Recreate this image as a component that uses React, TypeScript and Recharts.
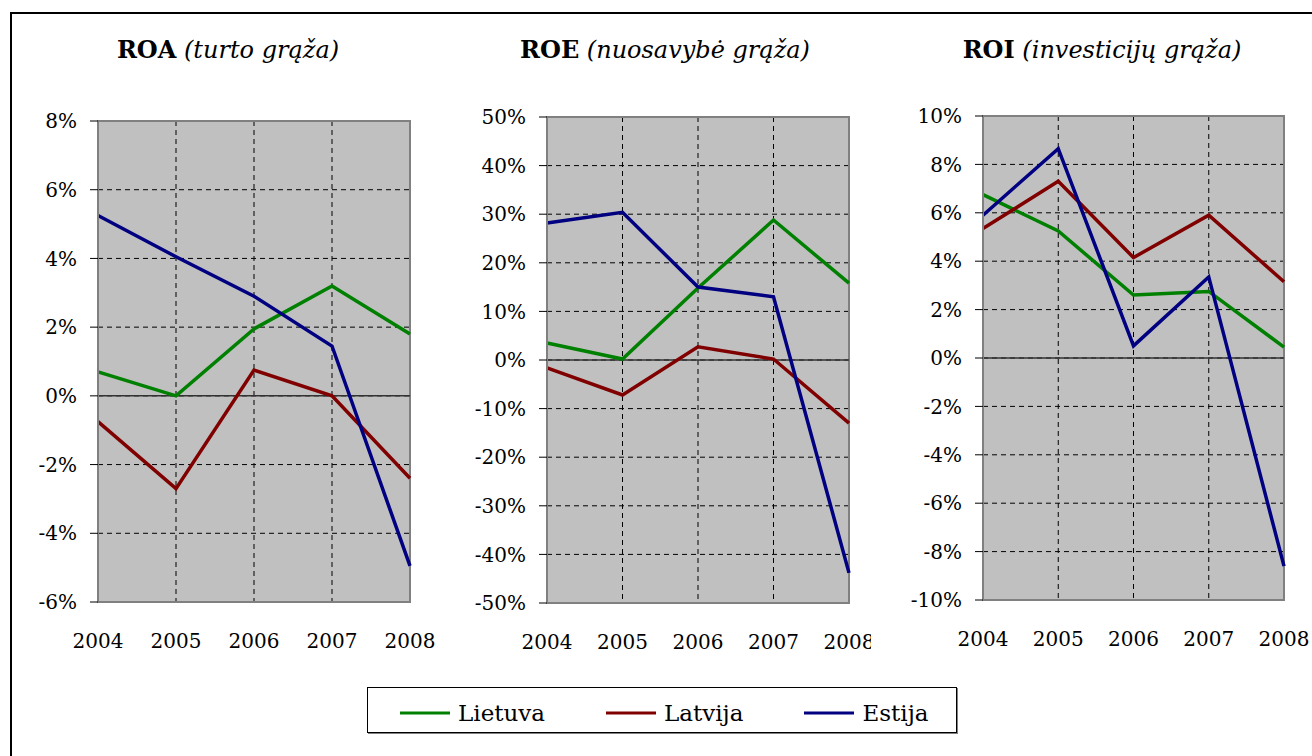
import React from "react";
import { LineChart, Line, XAxis, YAxis, CartesianGrid, ReferenceLine, ReferenceArea } from "recharts";

const years = ["2004", "2005", "2006", "2007", "2008"];

const roaLietuva = [0.7, 0.0, 1.95, 3.2, 1.8];
const roaLatvija = [-0.75, -2.7, 0.75, 0.0, -2.4];
const roaEstija = [5.25, 4.05, 2.9, 1.45, -4.95];

const roeLietuva = [3.5, 0.2, 14.8, 28.8, 15.8];
const roeLatvija = [-1.6, -7.2, 2.7, 0.2, -13.0];
const roeEstija = [28.2, 30.4, 15.0, 13.0, -43.8];

const roiLietuva = [6.75, 5.25, 2.6, 2.75, 0.45];
const roiLatvija = [5.35, 7.3, 4.15, 5.9, 3.15];
const roiEstija = [5.9, 8.65, 0.5, 3.35, -8.6];

const roaTicks = [-6, -4, -2, 0, 2, 4, 6, 8];
const roeTicks = [-50, -40, -30, -20, -10, 0, 10, 20, 30, 40, 50];
const roiTicks = [-10, -8, -6, -4, -2, 0, 2, 4, 6, 8, 10];

const series = [
  { key: "Lietuva", color: "#008000" },
  { key: "Latvija", color: "#800000" },
  { key: "Estija", color: "#000080" },
];

const font = "DejaVu Serif";

interface PanelProps {
  abbr: string;
  subtitle: string;
  titleCenter: number;
  plotLeft: number;
  plotRight: number;
  plotTop: number;
  plotBottom: number;
  ticks: number[];
  lt: number[];
  lv: number[];
  ee: number[];
  clipRight?: number;
}

const Panel: React.FC<PanelProps> = (p) => {
  const axisW = 100;
  const chartLeft = p.plotLeft - axisW;
  const width = p.plotRight + 30 - chartLeft;
  const height = 690;
  const xAxisH = 50;
  const data = years.map((y, i) => ({ year: y, Lietuva: p.lt[i], Latvija: p.lv[i], Estija: p.ee[i] }));
  const domain = [p.ticks[0], p.ticks[p.ticks.length - 1]];

  return (
    <>
      <div
        style={{
          position: "absolute",
          left: p.titleCenter - 250,
          width: 500,
          top: 35,
          textAlign: "center",
          fontFamily: font,
          fontSize: 24,
          whiteSpace: "nowrap",
        }}
      >
        <b>{p.abbr}</b> <i>{p.subtitle}</i>
      </div>
      <div
        style={{
          position: "absolute",
          left: chartLeft,
          top: 0,
          width: p.clipRight ? p.clipRight - chartLeft : width,
          height,
          overflow: "hidden",
        }}
      >
        <LineChart
          width={width}
          height={height}
          data={data}
          margin={{ top: p.plotTop, right: 30, bottom: height - p.plotBottom - xAxisH, left: 0 }}
        >
          <CartesianGrid stroke="#000" strokeDasharray="5 4" fill="#c0c0c0" fillOpacity={1} />
          <ReferenceArea
            x1="2004"
            x2="2008"
            y1={domain[0]}
            y2={domain[1]}
            fill="none"
            stroke="#808080"
            strokeWidth={2}
            ifOverflow="visible"
          />
          <ReferenceLine y={0} stroke="#333" strokeWidth={1.5} />
          <XAxis
            dataKey="year"
            height={xAxisH}
            interval={0}
            axisLine={false}
            tickLine={false}
            tickSize={0}
            tickMargin={32}
            tick={{ fill: "#000", fontSize: 20, fontFamily: font }}
          />
          <YAxis
            width={axisW}
            domain={domain}
            ticks={p.ticks}
            interval={0}
            allowDataOverflow
            axisLine={{ stroke: "#808080", strokeWidth: 2 }}
            tickLine={{ stroke: "#000" }}
            tickSize={8}
            tickMargin={13}
            tickFormatter={(v: number) => `${v}%`}
            tick={{ fill: "#000", fontSize: 20, fontFamily: font }}
          />
          {series.map((s) => (
            <Line
              key={s.key}
              type="linear"
              dataKey={s.key}
              stroke={s.color}
              strokeWidth={3.5}
              dot={false}
              isAnimationActive={false}
            />
          ))}
        </LineChart>
      </div>
    </>
  );
};

export default function App() {
  return (
    <div
      style={{
        position: "absolute",
        left: 0,
        top: 0,
        width: 1312,
        height: 756,
        overflow: "hidden",
        background: "#fff",
        fontFamily: font,
      }}
    >
      <div
        style={{
          position: "absolute",
          left: 10,
          top: 12,
          width: 1340,
          height: 780,
          border: "2px solid #000",
        }}
      />
      <Panel
        abbr="ROA"
        subtitle="(turto grąža)"
        titleCenter={228}
        plotLeft={98}
        plotRight={410}
        plotTop={121}
        plotBottom={602}
        ticks={roaTicks}
        lt={roaLietuva}
        lv={roaLatvija}
        ee={roaEstija}
      />
      <Panel
        abbr="ROE"
        subtitle="(nuosavybė grąža)"
        titleCenter={665}
        plotLeft={547}
        plotRight={849}
        plotTop={117}
        plotBottom={603}
        ticks={roeTicks}
        lt={roeLietuva}
        lv={roeLatvija}
        ee={roeEstija}
        clipRight={871}
      />
      <Panel
        abbr="ROI"
        subtitle="(investicijų grąža)"
        titleCenter={1102}
        plotLeft={983}
        plotRight={1284}
        plotTop={116}
        plotBottom={600}
        ticks={roiTicks}
        lt={roiLietuva}
        lv={roiLatvija}
        ee={roiEstija}
      />
      <div
        style={{
          position: "absolute",
          left: 367,
          top: 687,
          width: 590,
          height: 46,
          boxSizing: "border-box",
          border: "1px solid #000",
          boxShadow: "1px 1px 0 #808080",
          background: "#fff",
          display: "flex",
          alignItems: "center",
          paddingLeft: 32,
          paddingTop: 5,
          gap: 61,
        }}
      >
        {series.map((s) => (
          <div key={s.key} style={{ display: "flex", alignItems: "center" }}>
            <svg width={50} height={4} style={{ marginRight: 8 }}>
              <line x1={0} y1={2} x2={50} y2={2} stroke={s.color} strokeWidth={3} />
            </svg>
            <span style={{ fontSize: 23, lineHeight: "28px" }}>{s.key}</span>
          </div>
        ))}
      </div>
    </div>
  );
}
